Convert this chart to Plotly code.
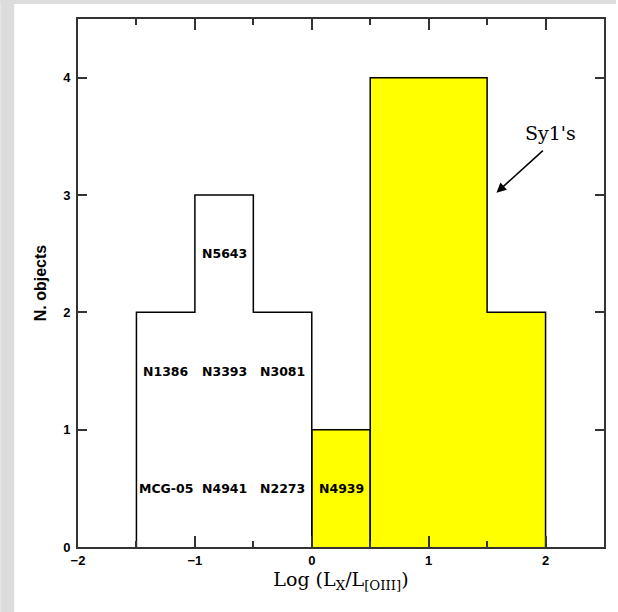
import plotly.graph_objects as go

# ---- data ----
white_edges = [-1.5, -1.0, -0.5, 0.0]
white_counts = [2, 3, 2]
yellow_edges_a = [0.0, 0.5]
yellow_counts_a = [1]
yellow_edges_b = [0.5, 1.5, 2.0]
yellow_counts_b = [4, 2]

label_x = [-0.75, -1.25, -0.75, -0.25, -1.25, -0.75, -0.25, 0.25]
label_y = [2.5, 1.5, 1.5, 1.5, 0.5, 0.5, 0.5, 0.5]
label_text = ["N5643", "N1386", "N3393", "N3081", "MCG-05", "N4941", "N2273", "N4939"]

x_range = [-2, 2.5]
y_range = [0, 4.5]
x_major_step = 1
x_minor_step = 0.5
y_major_step = 1

W, H = 618, 612
ML, MR, MT, MB = 78, 12, 19, 65
PW, PH = W - ML - MR, H - MT - MB


def step_path(edges, counts):
    xs, ys = [edges[0]], [0]
    for i, c in enumerate(counts):
        xs += [edges[i], edges[i + 1]]
        ys += [c, c]
    xs.append(edges[-1])
    ys.append(0)
    return xs, ys


fig = go.Figure()

# yellow filled bars
for e, c in [(yellow_edges_a, yellow_counts_a), (yellow_edges_b, yellow_counts_b)]:
    xs, ys = step_path(e, c)
    fig.add_trace(go.Scatter(x=xs, y=ys, mode="lines", fill="toself",
                             fillcolor="#ffff00",
                             line=dict(color="black", width=1.5),
                             hoverinfo="skip", showlegend=False))

# white (unfilled) bars
xs, ys = step_path(white_edges, white_counts)
fig.add_trace(go.Scatter(x=xs, y=ys, mode="lines",
                         line=dict(color="black", width=1.5),
                         hoverinfo="skip", showlegend=False))

# invisible trace to activate the top axis
fig.add_trace(go.Scatter(x=[white_edges[0]], y=[0], xaxis="x2", mode="markers",
                         marker=dict(opacity=0), hoverinfo="skip", showlegend=False))

# object labels
for x, y, t in zip(label_x, label_y, label_text):
    fig.add_annotation(x=x, y=y, text=t, showarrow=False,
                       font=dict(family="DejaVu Sans", size=12.5, color="black", weight="bold"))

# Sy1's label and arrow
fig.add_annotation(x=2.04, y=3.53, text="Sy1's", showarrow=False,
                   font=dict(family="DejaVu Serif", size=19, color="black"))
fig.add_annotation(x=1.58, y=3.02, ax=1.99, ay=3.39, axref="x", ayref="y",
                   xref="x", yref="y", text="", showarrow=True,
                   arrowhead=2, arrowsize=1.3, arrowwidth=1.5, arrowcolor="black")


def px_to_paper_x(px):
    return (px - ML) / PW


def px_to_paper_y(py):
    return 1 - (py - MT) / PH


# gray frame strips
fig.add_shape(type="rect", xref="paper", yref="paper",
              x0=px_to_paper_x(0), x1=px_to_paper_x(14),
              y0=px_to_paper_y(H), y1=px_to_paper_y(0),
              fillcolor="#dcdcdc", line=dict(width=0), layer="below")
fig.add_shape(type="rect", xref="paper", yref="paper",
              x0=px_to_paper_x(0), x1=px_to_paper_x(W),
              y0=px_to_paper_y(4), y1=px_to_paper_y(0),
              fillcolor="#dcdcdc", line=dict(width=0), layer="below")

axis_common = dict(showgrid=False, zeroline=False, showline=True,
                   linecolor="#333333", linewidth=2,
                   ticks="inside", tickcolor="#333333", tickwidth=1.5)
minor_x = dict(dtick=x_minor_step, tick0=0, ticks="inside", ticklen=6,
               tickcolor="#333333", tickwidth=1.5, showgrid=False)
tickfont = dict(family="Liberation Sans", size=13, color="black", weight="bold")

fig.update_layout(
    xaxis=dict(range=x_range, tickmode="linear", tick0=0, dtick=x_major_step,
               ticklen=11, minor=minor_x, tickfont=tickfont,
               title=dict(text="Log (L<sub>X</sub>/L<sub>[OIII]</sub>)",
                          font=dict(family="DejaVu Serif", size=19, color="black"),
                          standoff=5),
               **axis_common),
    xaxis2=dict(range=x_range, matches="x", overlaying="x", side="top",
                tickmode="linear", tick0=0, dtick=x_major_step,
                ticklen=11, minor=minor_x,
                showticklabels=False, **axis_common),
    yaxis=dict(range=y_range, tickmode="linear", tick0=0, dtick=y_major_step,
               ticklen=9, mirror="ticks",
               tickfont=tickfont, ticklabelstandoff=3,
               title=dict(text="N. objects",
                          font=dict(family="Liberation Sans", size=16, color="black", weight="bold"),
                          standoff=13),
               **axis_common),
    width=W, height=H,
    margin=dict(l=ML, r=MR, t=MT, b=MB),
    paper_bgcolor="white", plot_bgcolor="white",
    showlegend=False,
)

fig.write_html("out.html")
